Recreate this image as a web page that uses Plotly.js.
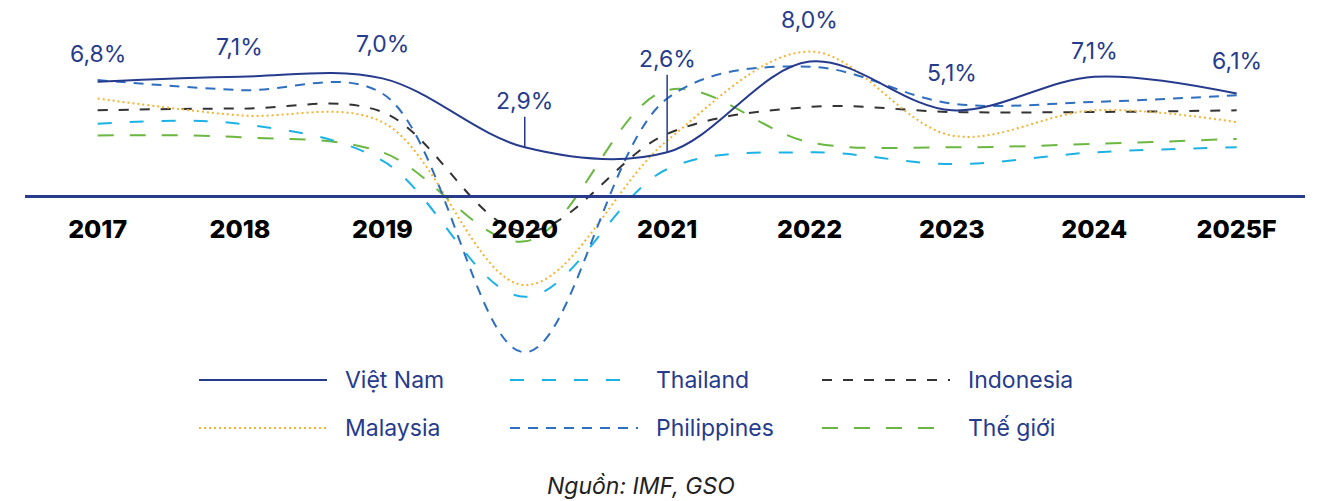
<!DOCTYPE html>
<html><head><meta charset="utf-8">
<script src="https://cdn.plot.ly/plotly-3.0.1.min.js"></script>
<style>html,body{margin:0;padding:0;background:#fff}#chart{width:1330px;height:501px}</style>
</head><body><div id="chart"></div>
<script>
const years = ['2017','2018','2019','2020','2021','2022','2023','2024','2025F'];
const seriesNames = ['Việt Nam','Thailand','Indonesia','Malaysia','Philippines','Thế giới'];
const vietnam     = [6.8, 7.1, 7.0, 2.9, 2.6, 8.0, 5.1, 7.1, 6.1];
const thailand    = [4.3, 4.3, 2.1, -6.0, 1.6, 2.6, 1.9, 2.6, 2.9];
const indonesia   = [5.1, 5.2, 5.0, -2.1, 3.7, 5.3, 5.0, 5.0, 5.1];
const malaysia    = [5.8, 4.8, 4.4, -5.3, 3.3, 8.6, 3.6, 5.1, 4.4];
const philippines = [6.9, 6.3, 6.1, -9.3, 5.8, 7.7, 5.5, 5.6, 6.0];
const world       = [3.6, 3.5, 2.6, -2.7, 6.3, 3.2, 2.9, 3.1, 3.4];
const sourceText  = 'Nguồn: IMF, GSO';

// styles
const navy = '#263b8c';
const colors = [navy, '#1cb3e4', '#333333', '#f4b331', '#2f6fc0', '#6ab842'];
const dashes = ['solid', '14px,18px', '10px,11px', '2px,3px', '10px,8px', '16px,16px'];
const widths = [2, 2, 2, 2, 2, 2];
const labelOffsets = [-28, -30, -34, -46, -93, -42, -37, -26, -33];
const labelArrows  = [false, false, false, true, true, false, false, false, false];

const allSeries = [vietnam, thailand, indonesia, malaysia, philippines, world];
const drawOrder = [5, 1, 2, 3, 4, 0];

const W = 1330, H = 501, L = 25, R = 25;
const px = x => (x - L) / (W - L - R);
const py = y => 1 - y / H;

const traces = drawOrder.map(i => ({
  type: 'scatter', mode: 'lines', name: seriesNames[i],
  x: years, y: allSeries[i],
  line: {color: colors[i], width: widths[i], dash: dashes[i], shape: 'spline', smoothing: 1},
  showlegend: false, hoverinfo: 'skip'
}));

const annotations = vietnam.map((v, k) => ({
  x: k, y: v, xref: 'x', yref: 'y',
  text: v.toFixed(1).replace('.', ',') + '%',
  showarrow: labelArrows[k], arrowhead: 0, arrowwidth: 1.5, arrowcolor: navy,
  ax: 0, ay: labelOffsets[k], standoff: 0,
  yshift: labelArrows[k] ? 0 : -labelOffsets[k],
  font: {family: 'Inter', size: 23, color: navy},
  xanchor: 'center', yanchor: 'middle'
}));

// custom legend (long line samples)
const shapes = [];
const colStart = [199, 510, 822];
const rowY = [380, 428];
seriesNames.forEach((n, i) => {
  const c = i % 3, r = Math.floor(i / 3);
  shapes.push({type: 'line', xref: 'paper', yref: 'paper',
    x0: px(colStart[c]), x1: px(colStart[c] + 128), y0: py(rowY[r]), y1: py(rowY[r]),
    line: {color: colors[i], width: 2, dash: dashes[i]}});
  annotations.push({xref: 'paper', yref: 'paper', x: px(colStart[c] + 144), y: py(rowY[r]),
    xanchor: 'left', yanchor: 'middle', showarrow: false, text: n,
    font: {family: 'Inter', size: 23, color: navy}});
});
annotations.push({xref: 'paper', yref: 'paper', x: px(641), y: py(486), xanchor: 'center', yanchor: 'middle',
  showarrow: false, text: '<i>' + sourceText + '</i>', font: {family: 'Inter', size: 23, color: '#222'}});

const layout = {
  width: W, height: H, margin: {l: L, r: R, t: 0, b: 0, pad: 0},
  paper_bgcolor: '#fff', plot_bgcolor: '#fff',
  xaxis: {type: 'category', range: [-0.51, 8.48], anchor: 'free', position: 305 / H,
    showline: true, linecolor: navy, linewidth: 2.5, showgrid: false, zeroline: false,
    ticks: 'outside', ticklen: 10, tickcolor: 'rgba(0,0,0,0)',
    tickfont: {family: 'Inter', size: 25, color: '#000', weight: 800}, fixedrange: true},
  yaxis: {range: [-305 / 16.8, 196 / 16.8], visible: false, showgrid: false, zeroline: false, fixedrange: true},
  annotations, shapes, showlegend: false
};
Plotly.newPlot('chart', traces, layout, {staticPlot: true, displayModeBar: false});
</script></body></html>
